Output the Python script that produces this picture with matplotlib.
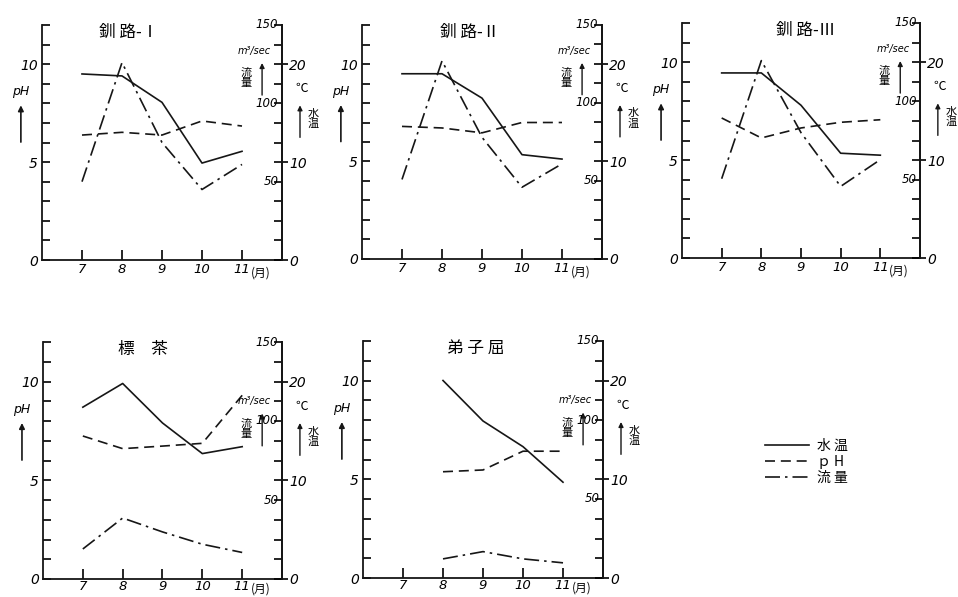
import numpy as np
import matplotlib.pyplot as plt
from matplotlib.lines import Line2D

plt.rcParams['font.family'] = ['DejaVu Sans', 'Noto Sans CJK JP']

CJK = ['Noto Sans CJK JP', 'DejaVu Sans']
INK = '#161616'

# data (months 7..11)
months = [7, 8, 9, 10, 11]
months_teshikaga = [8, 9, 10, 11]

kushiro1_temp = [19.0, 18.8, 16.1, 9.9, 11.1]     # °C
kushiro1_ph = [6.38, 6.52, 6.38, 7.1, 6.84]
kushiro1_flow = [50, 126, 75, 45, 61]              # m3/sec

kushiro2_temp = [19.0, 19.0, 16.5, 10.7, 10.25]
kushiro2_ph = [6.8, 6.72, 6.47, 7.0, 7.0]
kushiro2_flow = [51, 127, 78, 46, 61]

kushiro3_temp = [18.9, 18.9, 15.6, 10.7, 10.5]
kushiro3_ph = [7.15, 6.13, 6.64, 6.93, 7.06]
kushiro3_flow = [50.6, 126, 80, 45.7, 62.8]

shibecha_temp = [17.4, 19.8, 15.8, 12.7, 13.4]
shibecha_ph = [7.24, 6.6, 6.73, 6.87, 9.3]
shibecha_flow = [19, 38.6, 29.8, 22, 16.8]

teshikaga_temp = [20.0, 15.9, 13.3, 9.7]
teshikaga_ph = [5.38, 5.47, 6.42, 6.42]
teshikaga_flow = [12.1, 16.7, 12.1, 9.6]

titles = ['釧 路-Ⅰ', '釧 路-Ⅱ', '釧 路-Ⅲ', '標　茶', '弟 子 屈']
legend_labels = ['水 温', 'ｐ H', '流 量']

W, H = 958, 597
fig = plt.figure(figsize=(W / 100, H / 100), dpi=100)

SOLID = '-'
DASH = (0, (6, 3.5))
DASHDOT = (0, (9, 3, 1.5, 3))


def px_rect(left, right, top, bottom):
    return [left / W, 1 - bottom / H, (right - left) / W, (bottom - top) / H]


def draw_panel(rect, title, title_x, mon, temp, ph, flow, row):
    ax = fig.add_axes(rect)
    ax.set_xlim(6, 12)
    ax.set_ylim(0, 12)
    ax.spines['top'].set_visible(False)
    for s in ['left', 'right', 'bottom']:
        ax.spines[s].set_linewidth(1.3)
        ax.spines[s].set_color(INK)

    xpad = 2.5 if row == 0 else 0.5
    ax.set_xticks(months)
    ax.set_xticklabels([str(m) for m in months], style='italic', fontsize=9.5)
    ax.tick_params(axis='x', direction='in', length=7, width=1.2, pad=xpad)
    ax.set_yticks(np.arange(0, 13))
    ax.set_yticklabels(['0', '', '', '', '', '5', '', '', '', '', '10', '', ''],
                       style='italic', fontsize=10)
    ax.tick_params(axis='y', direction='in', length=6, width=1.2, pad=3)
    ax.text(11.22, -0.012 - xpad / 160, '(月)', transform=ax.get_xaxis_transform(),
            family=CJK, fontsize=8.5, va='top', ha='left')

    ax_t = ax.twinx()
    ax_t.set_ylim(0, 24)
    ax_q = ax.twinx()
    ax_q.set_ylim(0, 150)
    for a in (ax_t, ax_q):
        a.spines['top'].set_visible(False)
        a.spines['left'].set_visible(False)
        a.spines['bottom'].set_visible(False)
        a.spines['right'].set_linewidth(1.3)
        a.spines['right'].set_color(INK)

    ax_t.set_yticks([0, 10, 20])
    ax_t.set_yticklabels(['0', '10', '20'], style='italic', fontsize=10)
    ax_t.tick_params(axis='y', direction='out', length=4, width=1.2, pad=1)
    ax_q.set_yticks(np.arange(0, 151, 12.5))
    ax_q.set_yticklabels([])
    ax_q.tick_params(axis='y', direction='in', length=6, width=1.2)
    for v in [50, 100, 150]:
        ax_q.text(0.985, v, str(v), transform=ax_q.get_yaxis_transform(),
                  ha='right', va='center', style='italic', fontsize=8.5)

    ax_t.plot(mon, temp, color=INK, lw=1.2, ls=SOLID)
    ax.plot(mon, ph, color=INK, lw=1.2, ls=DASH)
    ax_q.plot(mon, flow, color=INK, lw=1.2, ls=DASHDOT)

    ax.text(title_x, 0.97, title, transform=ax.transAxes, family=CJK,
            fontsize=12, ha='center', va='center')

    # left label: pH with arrow
    ax.text(-0.09, 0.715, 'pH', transform=ax.transAxes, style='italic',
            fontsize=9, ha='center', va='center')
    ax.annotate('', xy=(-0.088, 0.67), xytext=(-0.088, 0.49), xycoords='axes fraction',
                arrowprops=dict(arrowstyle='-|>', color=INK, lw=1.2, mutation_scale=8))

    # right labels
    if row == 0:
        yq, yc = 0.89, 0.73
    else:
        yq, yc = 0.75, 0.73
    ax.text(0.955, yq, 'm³/sec', transform=ax.transAxes, style='italic',
            fontsize=7, ha='right', va='center')
    ax.text(0.85, yq - 0.115, '流\n量', transform=ax.transAxes, family=CJK,
            fontsize=8, ha='center', va='center', linespacing=1.0)
    ax.annotate('', xy=(0.917, yq - 0.04), xytext=(0.917, yq - 0.2), xycoords='axes fraction',
                arrowprops=dict(arrowstyle='-|>', color=INK, lw=1.0, mutation_scale=7))
    ax.text(1.083, yc, '℃', transform=ax.transAxes, family=CJK,
            fontsize=9, ha='center', va='center')
    ax.text(1.13, yc - 0.13, '水\n温', transform=ax.transAxes, family=CJK,
            fontsize=8, ha='center', va='center', linespacing=1.0)
    ax.annotate('', xy=(1.075, yc - 0.06), xytext=(1.075, yc - 0.22), xycoords='axes fraction',
                arrowprops=dict(arrowstyle='-|>', color=INK, lw=1.0, mutation_scale=7))
    return ax


draw_panel(px_rect(42, 282, 25, 260), titles[0], 0.36, months,
           kushiro1_temp, kushiro1_ph, kushiro1_flow, 0)
draw_panel(px_rect(362, 602, 25, 259), titles[1], 0.45, months,
           kushiro2_temp, kushiro2_ph, kushiro2_flow, 0)
draw_panel(px_rect(682, 920, 23, 258), titles[2], 0.52, months,
           kushiro3_temp, kushiro3_ph, kushiro3_flow, 0)
draw_panel(px_rect(43, 282, 342, 579), titles[3], 0.42, months,
           shibecha_temp, shibecha_ph, shibecha_flow, 1)
draw_panel(px_rect(363, 603, 341, 578), titles[4], 0.47, months_teshikaga,
           teshikaga_temp, teshikaga_ph, teshikaga_flow, 1)

handles = [Line2D([], [], color=INK, lw=1.2, ls=SOLID),
           Line2D([], [], color=INK, lw=1.2, ls=DASH),
           Line2D([], [], color=INK, lw=1.2, ls=DASHDOT)]
leg = fig.legend(handles, legend_labels, loc='upper left',
                 bbox_to_anchor=(752 / W, 1 - 426 / H), frameon=False,
                 handlelength=3.2, handletextpad=0.6, labelspacing=0.15,
                 prop={'family': CJK, 'size': 10})

fig.savefig('out.png', dpi=100)
